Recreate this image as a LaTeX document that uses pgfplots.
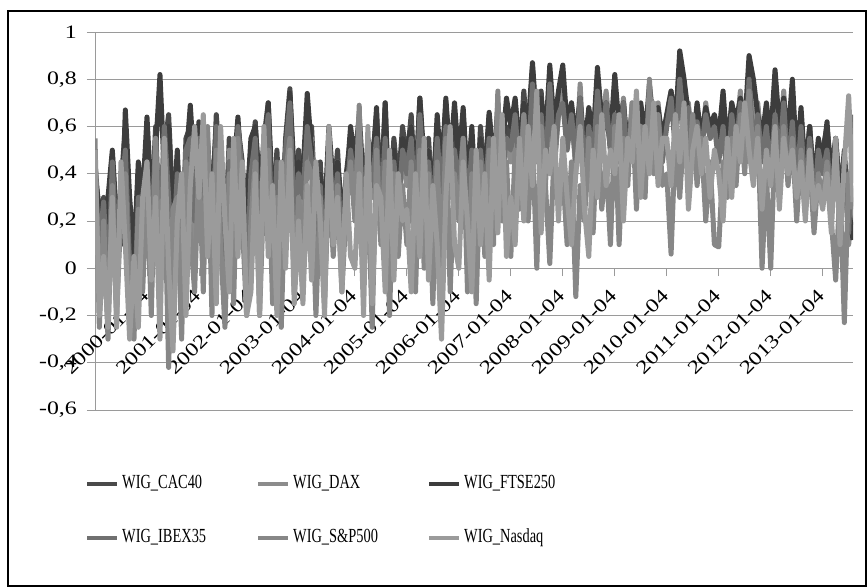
\documentclass[border=0pt]{standalone}
\usepackage{fontspec}
\usepackage{graphicx}
\usepackage{pgfplots}
\usepackage{pgfplotstable}
\pgfplotsset{compat=1.18}
\setmainfont{Liberation Serif}
\newcommand\TF{\fontsize{19bp}{22bp}\selectfont}
\newcommand\SX[1]{\scalebox{1.25}[1]{#1}}
\newcommand\RX[1]{\rotatebox{45}{\scalebox{1.25}[1]{\TF #1}}}
\newcommand\LG[1]{\scalebox{0.72}[1]{\fontsize{20bp}{24bp}\selectfont #1}}
\definecolor{cCAC}{HTML}{4A4A4A}
\definecolor{cDAX}{HTML}{8C8C8C}
\definecolor{cFTSE}{HTML}{3D3D3D}
\definecolor{cIBEX}{HTML}{707070}
\definecolor{cSP}{HTML}{878787}
\definecolor{cNAS}{HTML}{9B9B9B}
\definecolor{gridc}{HTML}{9A9A9A}

% monthly values, 1999-01 ... 2013-08
\pgfplotstableread[header=false,row sep=\\]{
0.45\\ 0.20\\ 0.30\\ 0.05\\ 0.48\\ 0.15\\ 0.35\\ 0.60\\ 0.10\\ -0.05\\ 0.40\\ 0.20\\
0.55\\ 0.20\\ 0.60\\ 0.10\\ 0.50\\ 0.65\\ 0.25\\ 0.45\\ 0.00\\ 0.55\\ 0.60\\ 0.30\\
0.60\\ 0.35\\ 0.55\\ 0.20\\ 0.65\\ 0.40\\ 0.10\\ 0.55\\ 0.30\\ 0.60\\ 0.45\\ 0.15\\
0.45\\ 0.62\\ 0.30\\ 0.55\\ 0.70\\ 0.20\\ 0.50\\ 0.10\\ 0.55\\ 0.76\\ 0.30\\ 0.50\\
0.35\\ 0.55\\ 0.60\\ 0.20\\ 0.45\\ 0.10\\ 0.55\\ 0.30\\ 0.50\\ 0.15\\ 0.40\\ 0.55\\
0.40\\ 0.60\\ 0.25\\ 0.55\\ 0.45\\ 0.65\\ 0.30\\ 0.70\\ 0.20\\ 0.55\\ 0.35\\ 0.60\\
0.45\\ 0.65\\ 0.30\\ 0.72\\ 0.40\\ 0.55\\ 0.25\\ 0.60\\ 0.35\\ 0.70\\ 0.40\\ 0.55\\
0.40\\ 0.65\\ 0.30\\ 0.55\\ 0.20\\ 0.60\\ 0.35\\ 0.65\\ 0.40\\ 0.70\\ 0.45\\ 0.60\\
0.55\\ 0.70\\ 0.45\\ 0.75\\ 0.50\\ 0.85\\ 0.55\\ 0.75\\ 0.45\\ 0.80\\ 0.50\\ 0.70\\
0.70\\ 0.55\\ 0.65\\ 0.45\\ 0.70\\ 0.40\\ 0.62\\ 0.50\\ 0.72\\ 0.55\\ 0.68\\ 0.50\\
0.65\\ 0.50\\ 0.70\\ 0.45\\ 0.65\\ 0.40\\ 0.62\\ 0.50\\ 0.70\\ 0.55\\ 0.65\\ 0.50\\
0.62\\ 0.72\\ 0.55\\ 0.80\\ 0.60\\ 0.68\\ 0.45\\ 0.62\\ 0.50\\ 0.68\\ 0.55\\ 0.62\\
0.50\\ 0.65\\ 0.40\\ 0.68\\ 0.55\\ 0.72\\ 0.50\\ 0.80\\ 0.55\\ 0.68\\ 0.50\\ 0.65\\
0.45\\ 0.70\\ 0.50\\ 0.72\\ 0.45\\ 0.65\\ 0.40\\ 0.65\\ 0.35\\ 0.60\\ 0.30\\ 0.50\\
0.50\\ 0.60\\ 0.40\\ 0.55\\ 0.30\\ 0.50\\ 0.20\\ 0.35\\
}\tcac

\pgfplotstableread[header=false,row sep=\\]{
0.30\\ -0.10\\ 0.25\\ 0.00\\ 0.40\\ -0.05\\ 0.30\\ 0.45\\ -0.15\\ 0.10\\ 0.35\\ 0.05\\
0.40\\ -0.10\\ 0.50\\ 0.00\\ 0.45\\ 0.20\\ -0.20\\ 0.35\\ -0.10\\ 0.50\\ 0.30\\ 0.05\\
0.50\\ 0.10\\ 0.45\\ -0.05\\ 0.55\\ 0.25\\ 0.00\\ 0.50\\ 0.15\\ 0.58\\ 0.30\\ 0.00\\
0.30\\ 0.50\\ 0.00\\ 0.45\\ 0.55\\ -0.05\\ 0.40\\ -0.15\\ 0.45\\ 0.60\\ 0.10\\ 0.35\\
0.20\\ 0.50\\ 0.55\\ 0.05\\ 0.40\\ -0.10\\ 0.45\\ 0.20\\ 0.45\\ 0.00\\ 0.35\\ 0.50\\
0.30\\ 0.55\\ 0.10\\ 0.50\\ 0.30\\ 0.60\\ 0.15\\ 0.60\\ 0.05\\ 0.45\\ 0.20\\ 0.50\\
0.35\\ 0.60\\ 0.20\\ 0.60\\ 0.30\\ 0.50\\ 0.10\\ 0.55\\ 0.25\\ 0.65\\ 0.30\\ 0.50\\
0.30\\ 0.60\\ 0.15\\ 0.50\\ 0.05\\ 0.55\\ 0.25\\ 0.60\\ 0.30\\ 0.65\\ 0.35\\ 0.55\\
0.45\\ 0.65\\ 0.35\\ 0.70\\ 0.40\\ 0.80\\ 0.45\\ 0.70\\ 0.35\\ 0.75\\ 0.40\\ 0.65\\
0.75\\ 0.55\\ 0.70\\ 0.40\\ 0.78\\ 0.40\\ 0.65\\ 0.50\\ 0.80\\ 0.60\\ 0.75\\ 0.55\\
0.65\\ 0.50\\ 0.72\\ 0.45\\ 0.70\\ 0.40\\ 0.65\\ 0.50\\ 0.75\\ 0.55\\ 0.70\\ 0.50\\
0.65\\ 0.75\\ 0.55\\ 0.85\\ 0.60\\ 0.70\\ 0.45\\ 0.65\\ 0.50\\ 0.70\\ 0.55\\ 0.65\\
0.50\\ 0.65\\ 0.40\\ 0.70\\ 0.55\\ 0.75\\ 0.50\\ 0.85\\ 0.55\\ 0.70\\ 0.50\\ 0.65\\
0.45\\ 0.70\\ 0.50\\ 0.75\\ 0.45\\ 0.65\\ 0.40\\ 0.65\\ 0.35\\ 0.60\\ 0.30\\ 0.50\\
0.45\\ 0.55\\ 0.35\\ 0.50\\ 0.25\\ 0.45\\ 0.10\\ 0.30\\
}\tdax

\pgfplotstableread[header=false,row sep=\\]{
0.40\\ 0.25\\ 0.10\\ 0.30\\ 0.50\\ 0.20\\ 0.10\\ 0.67\\ 0.30\\ 0.05\\ 0.45\\ 0.30\\
0.64\\ 0.30\\ 0.50\\ 0.82\\ 0.40\\ 0.60\\ 0.20\\ 0.50\\ 0.10\\ 0.45\\ 0.69\\ 0.40\\
0.62\\ 0.45\\ 0.40\\ 0.30\\ 0.60\\ 0.50\\ 0.20\\ 0.45\\ 0.40\\ 0.64\\ 0.35\\ 0.25\\
0.55\\ 0.60\\ 0.35\\ 0.50\\ 0.70\\ 0.30\\ 0.45\\ 0.20\\ 0.50\\ 0.74\\ 0.40\\ 0.45\\
0.40\\ 0.74\\ 0.50\\ -0.02\\ 0.40\\ 0.20\\ 0.60\\ 0.35\\ 0.45\\ 0.25\\ 0.35\\ 0.60\\
0.45\\ 0.65\\ 0.35\\ 0.50\\ 0.40\\ 0.68\\ 0.20\\ 0.70\\ 0.15\\ 0.50\\ 0.30\\ 0.55\\
0.50\\ 0.60\\ 0.35\\ 0.72\\ 0.45\\ 0.50\\ 0.30\\ 0.65\\ 0.40\\ 0.72\\ 0.45\\ 0.70\\
0.45\\ 0.68\\ 0.35\\ 0.60\\ 0.25\\ 0.55\\ 0.40\\ 0.66\\ 0.45\\ 0.60\\ 0.50\\ 0.72\\
0.60\\ 0.72\\ 0.50\\ 0.70\\ 0.60\\ 0.87\\ 0.60\\ 0.72\\ 0.55\\ 0.86\\ 0.60\\ 0.75\\
0.86\\ 0.60\\ 0.70\\ 0.55\\ 0.72\\ 0.50\\ 0.68\\ 0.55\\ 0.85\\ 0.62\\ 0.70\\ 0.55\\
0.82\\ 0.60\\ 0.70\\ 0.50\\ 0.66\\ 0.50\\ 0.70\\ 0.55\\ 0.78\\ 0.60\\ 0.68\\ 0.55\\
0.65\\ 0.75\\ 0.60\\ 0.92\\ 0.80\\ 0.65\\ 0.50\\ 0.70\\ 0.55\\ 0.68\\ 0.60\\ 0.65\\
0.55\\ 0.75\\ 0.50\\ 0.70\\ 0.62\\ 0.72\\ 0.60\\ 0.90\\ 0.80\\ 0.65\\ 0.55\\ 0.70\\
0.55\\ 0.84\\ 0.60\\ 0.72\\ 0.55\\ 0.80\\ 0.45\\ 0.68\\ 0.40\\ 0.60\\ 0.35\\ 0.55\\
0.45\\ 0.62\\ 0.35\\ 0.55\\ 0.30\\ 0.45\\ 0.25\\ 0.12\\
}\tftse

\pgfplotstableread[header=false,row sep=\\]{
0.35\\ 0.10\\ 0.28\\ -0.10\\ 0.45\\ 0.05\\ 0.30\\ 0.50\\ 0.00\\ -0.20\\ 0.30\\ 0.10\\
0.45\\ 0.10\\ 0.55\\ 0.15\\ 0.60\\ 0.30\\ 0.05\\ 0.40\\ -0.05\\ 0.50\\ 0.55\\ 0.20\\
0.55\\ 0.20\\ 0.50\\ 0.00\\ 0.60\\ 0.30\\ -0.05\\ 0.45\\ 0.10\\ 0.60\\ 0.40\\ -0.10\\
0.40\\ 0.55\\ 0.10\\ 0.50\\ 0.65\\ 0.05\\ 0.45\\ -0.10\\ 0.50\\ 0.70\\ 0.20\\ 0.40\\
0.30\\ 0.60\\ 0.45\\ 0.10\\ 0.35\\ 0.00\\ 0.50\\ 0.25\\ 0.40\\ 0.10\\ 0.30\\ 0.50\\
0.35\\ 0.55\\ 0.20\\ 0.45\\ 0.35\\ 0.55\\ 0.25\\ 0.55\\ 0.10\\ 0.45\\ 0.25\\ 0.50\\
0.40\\ 0.55\\ 0.25\\ 0.65\\ 0.35\\ 0.45\\ 0.20\\ 0.55\\ 0.30\\ 0.60\\ 0.35\\ 0.50\\
0.35\\ 0.55\\ 0.25\\ 0.50\\ 0.10\\ 0.50\\ 0.30\\ 0.55\\ 0.35\\ 0.60\\ 0.40\\ 0.55\\
0.50\\ 0.65\\ 0.40\\ 0.65\\ 0.45\\ 0.78\\ 0.50\\ 0.65\\ 0.40\\ 0.78\\ 0.45\\ 0.65\\
0.70\\ 0.50\\ 0.65\\ 0.45\\ 0.72\\ 0.40\\ 0.60\\ 0.45\\ 0.75\\ 0.55\\ 0.70\\ 0.50\\
0.65\\ 0.45\\ 0.70\\ 0.40\\ 0.68\\ 0.35\\ 0.60\\ 0.45\\ 0.72\\ 0.50\\ 0.65\\ 0.45\\
0.60\\ 0.72\\ 0.50\\ 0.80\\ 0.55\\ 0.68\\ 0.45\\ 0.62\\ 0.50\\ 0.65\\ 0.55\\ 0.60\\
0.45\\ 0.60\\ 0.35\\ 0.65\\ 0.50\\ 0.70\\ 0.45\\ 0.80\\ 0.50\\ 0.65\\ 0.45\\ 0.60\\
0.40\\ 0.65\\ 0.45\\ 0.70\\ 0.40\\ 0.62\\ 0.35\\ 0.60\\ 0.30\\ 0.55\\ 0.25\\ 0.50\\
0.40\\ 0.50\\ 0.30\\ 0.50\\ 0.20\\ 0.40\\ 0.15\\ 0.65\\
}\tibex

\pgfplotstableread[header=false,row sep=\\]{
0.55\\ -0.25\\ 0.20\\ -0.30\\ 0.35\\ -0.20\\ 0.25\\ 0.40\\ -0.15\\ -0.30\\ 0.25\\ -0.10\\
0.35\\ -0.20\\ 0.55\\ -0.15\\ 0.40\\ -0.42\\ 0.25\\ 0.30\\ -0.30\\ 0.45\\ 0.15\\ -0.10\\
0.45\\ -0.10\\ 0.60\\ -0.20\\ 0.50\\ 0.10\\ -0.25\\ 0.40\\ -0.15\\ 0.55\\ 0.20\\ -0.20\\
0.20\\ 0.45\\ -0.20\\ 0.35\\ 0.50\\ -0.15\\ 0.30\\ -0.25\\ 0.40\\ 0.55\\ -0.10\\ 0.30\\
0.10\\ 0.45\\ 0.40\\ -0.20\\ 0.30\\ -0.15\\ 0.40\\ 0.05\\ 0.35\\ -0.10\\ 0.25\\ 0.45\\
0.20\\ 0.69\\ -0.05\\ 0.35\\ -0.25\\ 0.50\\ 0.10\\ 0.45\\ -0.20\\ 0.40\\ 0.05\\ 0.35\\
0.10\\ 0.45\\ -0.10\\ 0.50\\ 0.00\\ 0.40\\ -0.15\\ 0.45\\ 0.00\\ 0.55\\ -0.10\\ 0.40\\
0.20\\ 0.55\\ -0.10\\ 0.40\\ -0.15\\ 0.45\\ 0.05\\ 0.50\\ 0.10\\ 0.75\\ 0.20\\ 0.45\\
0.05\\ 0.50\\ 0.25\\ 0.65\\ 0.20\\ 0.55\\ 0.00\\ 0.60\\ 0.35\\ 0.02\\ 0.50\\ 0.30\\
0.40\\ 0.10\\ 0.45\\ -0.12\\ 0.35\\ 0.20\\ 0.55\\ 0.15\\ 0.60\\ 0.25\\ 0.45\\ 0.10\\
0.60\\ 0.10\\ 0.55\\ 0.35\\ 0.70\\ 0.25\\ 0.60\\ 0.30\\ 0.80\\ 0.40\\ 0.65\\ 0.35\\
0.40\\ 0.06\\ 0.55\\ 0.30\\ 0.60\\ 0.40\\ 0.65\\ 0.35\\ 0.55\\ 0.20\\ 0.45\\ 0.10\\
0.09\\ 0.45\\ 0.30\\ 0.55\\ 0.35\\ 0.65\\ 0.40\\ 0.75\\ 0.45\\ 0.60\\ 0.00\\ 0.40\\
0.00\\ 0.55\\ 0.30\\ 0.60\\ 0.35\\ 0.55\\ 0.20\\ 0.50\\ 0.25\\ 0.45\\ 0.15\\ 0.40\\
0.30\\ 0.45\\ 0.20\\ -0.05\\ 0.35\\ -0.23\\ 0.40\\ 0.25\\
}\tsp

\pgfplotstableread[header=false,row sep=\\]{
0.50\\ -0.20\\ 0.05\\ -0.25\\ 0.30\\ -0.25\\ 0.45\\ 0.10\\ -0.30\\ 0.05\\ -0.25\\ 0.30\\
0.45\\ -0.05\\ 0.30\\ -0.30\\ 0.55\\ 0.00\\ -0.35\\ 0.20\\ 0.40\\ -0.20\\ 0.35\\ 0.60\\
0.30\\ 0.65\\ 0.05\\ 0.40\\ -0.15\\ 0.60\\ 0.20\\ -0.10\\ 0.55\\ 0.05\\ 0.45\\ -0.20\\
-0.10\\ 0.40\\ -0.20\\ 0.60\\ 0.05\\ 0.35\\ -0.20\\ 0.45\\ 0.00\\ 0.50\\ -0.15\\ 0.20\\
-0.15\\ 0.35\\ -0.05\\ 0.45\\ 0.20\\ -0.20\\ 0.60\\ 0.10\\ 0.30\\ -0.10\\ 0.40\\ 0.05\\
0.00\\ 0.40\\ -0.20\\ 0.60\\ -0.15\\ 0.35\\ 0.30\\ -0.10\\ 0.50\\ -0.05\\ 0.40\\ 0.20\\
0.25\\ -0.10\\ 0.40\\ 0.05\\ 0.55\\ -0.05\\ 0.35\\ 0.10\\ -0.30\\ 0.30\\ 0.60\\ 0.10\\
0.00\\ 0.45\\ 0.20\\ -0.10\\ 0.50\\ 0.10\\ 0.40\\ -0.05\\ 0.55\\ 0.15\\ 0.65\\ 0.05\\
0.30\\ 0.10\\ 0.55\\ 0.20\\ 0.60\\ 0.35\\ 0.75\\ 0.15\\ 0.50\\ 0.40\\ 0.60\\ 0.20\\
0.55\\ 0.30\\ 0.10\\ 0.40\\ 0.60\\ 0.25\\ 0.05\\ 0.50\\ 0.30\\ 0.65\\ 0.35\\ 0.50\\
0.40\\ 0.65\\ 0.20\\ 0.55\\ 0.45\\ 0.75\\ 0.30\\ 0.60\\ 0.40\\ 0.70\\ 0.35\\ 0.55\\
0.55\\ 0.35\\ 0.65\\ 0.45\\ 0.70\\ 0.25\\ 0.50\\ 0.60\\ 0.40\\ 0.55\\ 0.30\\ 0.50\\
0.40\\ 0.20\\ 0.55\\ 0.30\\ 0.60\\ 0.45\\ 0.70\\ 0.50\\ 0.35\\ 0.55\\ 0.25\\ 0.50\\
0.35\\ 0.60\\ 0.25\\ 0.55\\ 0.40\\ 0.50\\ 0.30\\ 0.45\\ 0.20\\ 0.50\\ 0.25\\ 0.35\\
0.25\\ 0.40\\ 0.15\\ 0.55\\ 0.10\\ 0.45\\ 0.73\\ 0.28\\
}\tnas

\begin{document}
\begin{tikzpicture}
\useasboundingbox (0bp,0bp) rectangle (867bp,587bp);
\draw[line width=1.2bp] (8bp,1bp) rectangle (866bp,576bp);
\begin{axis}[
  at={(95bp,177bp)}, anchor=south west,
  scale only axis, width=758bp, height=378bp,
  xmin=0, xmax=175, ymin=-0.6, ymax=1,
  axis x line=middle, axis y line=left,
  axis line style={-, draw=gridc, line width=0.9bp},
  x axis line style={-}, y axis line style={-},
  tick align=outside, major tick length=8bp,
  tick style={draw=gridc, line width=0.9bp},
  ymajorgrids, major grid style={draw=gridc, line width=0.9bp},
  xtick={0,12,24,36,48,60,72,84,96,108,120,132,144,156,168},
  xticklabels={\RX{1999-01-04},\RX{2000-01-04},\RX{2001-01-04},\RX{2002-01-04},\RX{2003-01-04},\RX{2004-01-04},\RX{2005-01-04},\RX{2006-01-04},\RX{2007-01-04},\RX{2008-01-04},\RX{2009-01-04},\RX{2010-01-04},\RX{2011-01-04},\RX{2012-01-04},\RX{2013-01-04}},
  ytick={-0.6,-0.4,-0.2,0,0.2,0.4,0.6,0.8,1},
  yticklabels={\SX{-0,6},\SX{-0,4},\SX{-0,2},\SX{0},\SX{0,2},\SX{0,4},\SX{0,6},\SX{0,8},\SX{1}},
  xticklabel style={text=black, anchor=north east, inner sep=0pt, xshift=3bp, yshift=-12bp},
  yticklabel style={font=\TF, text=black, anchor=east, inner sep=1bp, xshift=-9bp},
  legend columns=3, legend cell align=left,
  legend style={at={(-0.0132,-0.171)}, anchor=north west, draw=none, fill=none,
    inner sep=0pt, column sep=1bp, row sep=36bp,
    nodes={text height=14bp, text depth=4bp, inner xsep=2bp, inner ysep=0pt, text width=131bp}},
  legend image code/.code={\draw[#1, line width=4bp] (0bp,0bp) -- (30bp,0bp);},
  every axis plot/.append style={line width=5bp, line join=round, mark=none},
]
\addplot[cCAC] table[x expr=\coordindex, y index=0] {\tcac};
\addlegendentry{\LG{WIG\_CAC40}}
\addplot[cDAX] table[x expr=\coordindex, y index=0] {\tdax};
\addlegendentry{\LG{WIG\_DAX}}
\addplot[cFTSE] table[x expr=\coordindex, y index=0] {\tftse};
\addlegendentry{\LG{WIG\_FTSE250}}
\addplot[cIBEX] table[x expr=\coordindex, y index=0] {\tibex};
\addlegendentry{\LG{WIG\_IBEX35}}
\addplot[cSP] table[x expr=\coordindex, y index=0] {\tsp};
\addlegendentry{\LG{WIG\_S\&P500}}
\addplot[cNAS] table[x expr=\coordindex, y index=0] {\tnas};
\addlegendentry{\LG{WIG\_Nasdaq}}
\end{axis}
\end{tikzpicture}
\end{document}
